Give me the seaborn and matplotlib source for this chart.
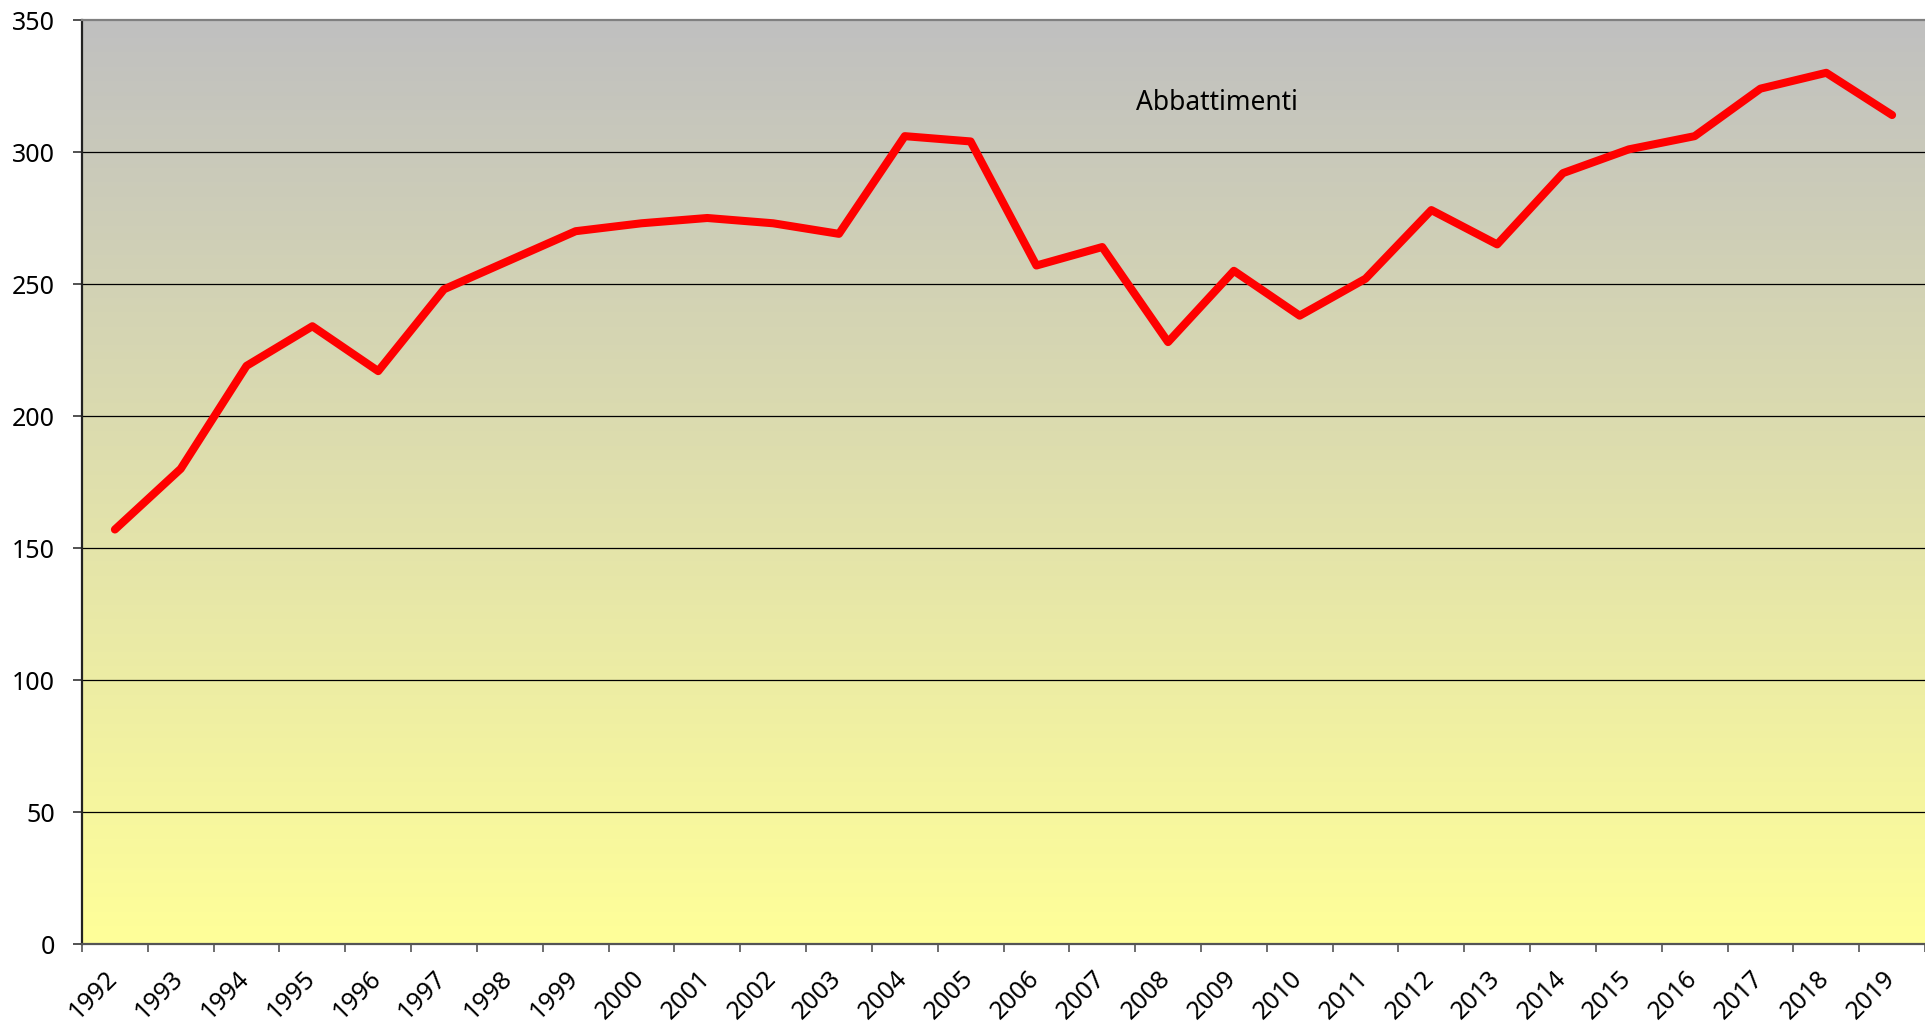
import numpy as np
import pandas as pd
import matplotlib
matplotlib.use("Agg")
import matplotlib.pyplot as plt
import matplotlib.transforms as mtransforms
import seaborn as sns

# dati
anni = list(range(1992, 2020))
abbattimenti = [157, 180, 219, 234, 217, 248, 259, 270, 273, 275,
                273, 269, 306, 304, 257, 264, 228, 255, 238, 252,
                278, 265, 292, 301, 306, 324, 330, 314]
etichetta = "Abbattimenti"
y_ticks = [0, 50, 100, 150, 200, 250, 300, 350]

df = pd.DataFrame({"anno": anni, "valore": abbattimenti})

sns.set_style("white")
plt.rcParams['font.family'] = ['Noto Sans', 'DejaVu Sans']

fig = plt.figure(figsize=(19.25, 10.27), dpi=100)
ax = fig.add_axes([82 / 1925, 1 - 944 / 1027, 1 - 82 / 1925, (944 - 20) / 1027])

x0, x1 = anni[0] - 0.5, anni[-1] + 0.5

# sfondo sfumato grigio -> giallo chiaro
top = np.array([192, 192, 192]) / 255
bottom = np.array([255, 255, 153]) / 255
t = np.linspace(0, 1, 256)[:, None]
grad = (top * (1 - t) + bottom * t)[:, None, :]
ax.imshow(grad, extent=[x0, x1, 0, 350], aspect="auto", origin="upper", zorder=0)

# linea
sns.lineplot(data=df, x="anno", y="valore", ax=ax, color="#FF0000",
             linewidth=5.8, zorder=3, solid_capstyle="round", solid_joinstyle="round")

ax.set_xlim(x0, x1)
ax.set_ylim(0, 350)

# griglia orizzontale
for v in y_ticks[1:-1]:
    ax.axhline(v, color="black", linewidth=0.9, zorder=1)

# asse y
ax.set_yticks(y_ticks)
ax.set_yticklabels([str(v) for v in y_ticks], fontsize=18, color="black")
ax.tick_params(axis="y", length=6.5, width=1.2, pad=13, color="#333333", left=True)

# tacche ai confini delle categorie, etichette al centro
ax.set_xticks(np.arange(x0, x1 + 0.01, 1.0))
ax.set_xticklabels([])
ax.tick_params(axis="x", which="major", length=6, width=1.2, color="#555555", bottom=True)
ax.set_xticks(anni, minor=True)
ax.set_xticklabels([str(a) for a in anni], minor=True, rotation=45, ha="right",
                   fontsize=18, color="black")
ax.tick_params(axis="x", which="minor", length=0, pad=16)
offset = mtransforms.ScaledTranslation(8 / 100, 0, fig.dpi_scale_trans)
for lab in ax.get_xticklabels(minor=True):
    lab.set_transform(lab.get_transform() + offset)

ax.set_xlabel("")
ax.set_ylabel("")

for side, col in [("left", "#222222"), ("bottom", "#555555"), ("top", "#808080")]:
    ax.spines[side].set_visible(True)
    ax.spines[side].set_color(col)
    ax.spines[side].set_linewidth(1.6)
ax.spines["right"].set_visible(False)

ax.text(2008.75, 318.5, etichetta, fontsize=19, color="black", ha="center", va="center", zorder=4)

fig.savefig("out.png", dpi=100)
